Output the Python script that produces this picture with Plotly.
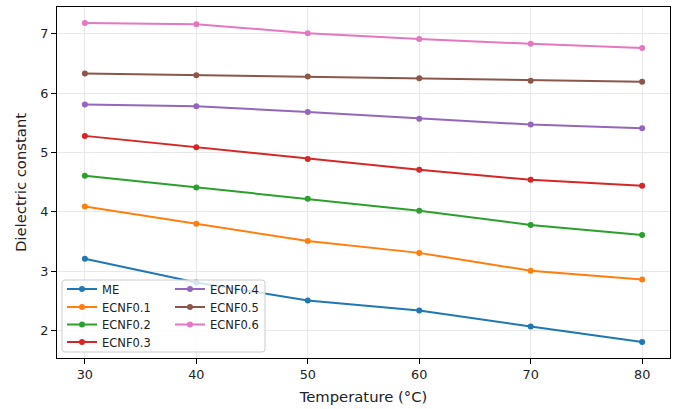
import plotly.graph_objects as go

temperature = [30, 40, 50, 60, 70, 80]
series_names = ["ME", "ECNF0.1", "ECNF0.2", "ECNF0.3", "ECNF0.4", "ECNF0.5", "ECNF0.6"]
me = [3.21, 2.81, 2.51, 2.34, 2.07, 1.81]
ecnf01 = [4.09, 3.80, 3.51, 3.31, 3.01, 2.86]
ecnf02 = [4.61, 4.41, 4.22, 4.02, 3.78, 3.61]
ecnf03 = [5.28, 5.09, 4.89, 4.71, 4.54, 4.44]
ecnf04 = [5.81, 5.78, 5.68, 5.57, 5.47, 5.41]
ecnf05 = [6.33, 6.30, 6.28, 6.25, 6.21, 6.19]
ecnf06 = [7.18, 7.16, 7.01, 6.91, 6.83, 6.76]
values = [me, ecnf01, ecnf02, ecnf03, ecnf04, ecnf05, ecnf06]
colors = ["#1f77b4", "#ff7f0e", "#2ca02c", "#d62728", "#9467bd", "#8c564b", "#e377c2"]

FONT = "DejaVu Sans"
W, H = 678, 409
ml, mr, mt, mb = 57, 8, 7, 51
pw = W - ml - mr
ph = H - mt - mb

def px_x(p):
    return (p - ml) / pw

def px_y(p):
    return (H - mb - p) / ph

# legend entry positions (pixels): column-major two-column layout
col_x = [62, 170]
row_y = [289, 307, 324.5, 342]

fig = go.Figure()
layout_legends = {}
for i, (name, vals, c) in enumerate(zip(series_names, values, colors)):
    key = "legend" if i == 0 else f"legend{i + 1}"
    fig.add_trace(go.Scatter(
        x=temperature, y=vals, name=name, mode="lines+markers",
        line=dict(color=c, width=2), marker=dict(color=c, size=6),
        legend=key,
    ))
    col = 0 if i < 4 else 1
    row = i if i < 4 else i - 4
    layout_legends[key] = dict(
        x=px_x(col_x[col]), y=px_y(row_y[row]),
        xanchor="left", yanchor="middle",
        bgcolor="rgba(0,0,0,0)", borderwidth=0,
        font=dict(family=FONT, size=11.5, color="#222"),
        itemwidth=30,
    )

# rounded legend frame (pixel box converted to paper coordinates)
bx0, bx1, by0, by1, r = 62, 265, 280, 352, 3
X0, X1 = px_x(bx0), px_x(bx1)
Yt, Yb = px_y(by0), px_y(by1)
rx, ry = r / pw, r / ph
frame_path = (
    f"M {X0 + rx},{Yt} L {X1 - rx},{Yt} Q {X1},{Yt} {X1},{Yt - ry} "
    f"L {X1},{Yb + ry} Q {X1},{Yb} {X1 - rx},{Yb} "
    f"L {X0 + rx},{Yb} Q {X0},{Yb} {X0},{Yb + ry} "
    f"L {X0},{Yt - ry} Q {X0},{Yt} {X0 + rx},{Yt} Z"
)

fig.update_layout(
    width=W, height=H,
    margin=dict(l=ml, r=mr, t=mt, b=mb, autoexpand=False),
    paper_bgcolor="white", plot_bgcolor="white",
    font=dict(family=FONT, size=13, color="#222"),
    showlegend=True,
    shapes=[dict(
        type="path", xref="paper", yref="paper", path=frame_path,
        fillcolor="rgba(255,255,255,0.8)", line=dict(color="#cccccc", width=1),
        layer="above",
    )],
    xaxis=dict(
        range=[27.5, 82.5], tickvals=temperature,
        title=dict(text="Temperature (°C)", font=dict(size=14.8), standoff=10),
        showgrid=True, gridcolor="#e8e8e8", gridwidth=1,
        showline=True, linecolor="black", linewidth=1, mirror=True,
        ticks="outside", ticklen=5, tickcolor="black",
        tickfont=dict(size=12.8), zeroline=False, automargin=False,
    ),
    yaxis=dict(
        range=[1.54, 7.45], tickvals=[2, 3, 4, 5, 6, 7],
        title=dict(text="Dielectric constant", font=dict(size=14.8), standoff=10),
        showgrid=True, gridcolor="#e8e8e8", gridwidth=1,
        showline=True, linecolor="black", linewidth=1, mirror=True,
        ticks="outside", ticklen=5, tickcolor="black",
        tickfont=dict(size=12.8), zeroline=False, automargin=False,
    ),
    **layout_legends,
)

fig.write_html(
    "out.html",
    config={"displayModeBar": False},
    post_script="document.body.style.margin='0';document.body.style.padding='0';",
)
